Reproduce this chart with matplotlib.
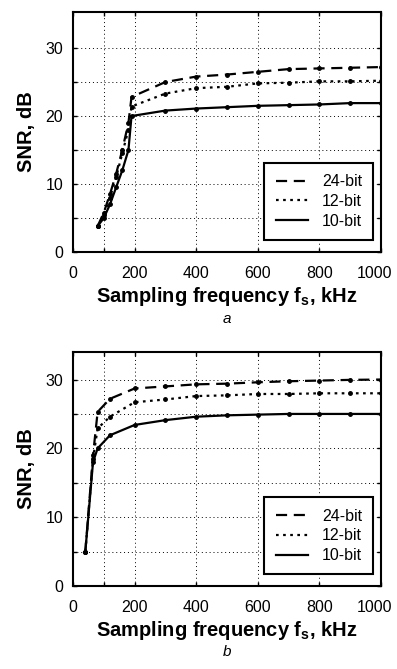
import matplotlib.pyplot as plt
from matplotlib.lines import Line2D
from matplotlib.transforms import ScaledTranslation

# panel a
xa_lo = [80, 100, 120, 140, 160, 180, 190]
xa_hi = [300, 400, 500, 600, 700, 800, 900, 1000]
a24 = [3.8, 5.8, 8.5, 11.5, 15.0, 19.0, 22.8, 25.0, 25.8, 26.1, 26.5, 26.9, 27.0, 27.1, 27.2]
a12 = [3.8, 5.5, 8.0, 11.0, 14.5, 18.0, 21.4, 23.3, 24.1, 24.3, 24.8, 24.9, 25.1, 25.1, 25.2]
a10 = [3.8, 5.0, 7.0, 9.5, 12.0, 15.0, 20.0, 20.8, 21.1, 21.3, 21.5, 21.6, 21.7, 21.9, 21.9]

# panel b
xb = [40, 65, 80, 120, 200, 300, 400, 500, 600, 700, 800, 900, 1000]
b24 = [5.0, 19.0, 25.3, 27.2, 28.7, 29.0, 29.3, 29.4, 29.6, 29.75, 29.85, 29.95, 30.0]
b12 = [5.0, 18.5, 22.9, 24.6, 26.7, 27.1, 27.6, 27.7, 27.9, 27.9, 28.0, 28.0, 28.0]
b10 = [5.0, 18.0, 20.0, 21.9, 23.4, 24.1, 24.6, 24.8, 24.9, 25.0, 25.0, 25.0, 25.0]

labels = ['24-bit', '12-bit', '10-bit']
styles = [(0, (5, 3)), (0, (1.2, 2)), '-']

xticks = [0, 100, 200, 400, 600, 800, 1000]
xticklabels = ['0', '', '200', '400', '600', '800', '1000']
yticks = [0, 5, 10, 15, 20, 25, 30]
yticklabels = ['0', '', '10', '', '20', '', '30']

narrow = ['Liberation Sans', 'DejaVu Sans']

fig = plt.figure(figsize=(3.97, 6.69), dpi=100)
W, H = 397, 669


def make_axes(left, top, right, bottom):
    return fig.add_axes([left / W, 1 - bottom / H, (right - left) / W, (bottom - top) / H])


def style(ax, ytop, caption):
    ax.set_xlim(0, 1000)
    ax.set_ylim(0, ytop)
    ax.set_xticks(xticks)
    ax.set_xticklabels(xticklabels, family=narrow, fontsize=11.5)
    ax.set_yticks(yticks)
    ax.set_yticklabels(yticklabels, family=narrow, fontsize=11.5)
    ax.tick_params(direction='in', top=True, right=True, length=3, width=1)
    ax.tick_params(axis='x', pad=10)
    ax.tick_params(axis='y', pad=7)
    # keep "1000" inside the figure
    last = ax.get_xticklabels()[-1]
    last.set_transform(last.get_transform() + ScaledTranslation(-5 / 72, 0, fig.dpi_scale_trans))
    ax.grid(True, color='black', linestyle=(0, (1, 3)), linewidth=0.7)
    for s in ax.spines.values():
        s.set_linewidth(1.5)
    ax.set_xlabel('Sampling frequency f$_{\\mathregular{s}}$, kHz', fontsize=14.5,
                  family='Liberation Sans', fontweight='bold', labelpad=3)
    ax.set_ylabel('SNR, dB', fontsize=14.5, family='Liberation Sans',
                  fontweight='bold', labelpad=7)
    ax.text(0.5, -0.28, caption, transform=ax.transAxes, ha='center', va='center',
            fontsize=11, style='italic', family='Liberation Sans')
    handles = [Line2D([], [], color='black', linestyle=ls, linewidth=1.6) for ls in styles]
    leg = ax.legend(handles, labels, loc='lower right', bbox_to_anchor=(0.975, 0.05),
                    fancybox=False, edgecolor='black', framealpha=1, handlelength=2.0,
                    handletextpad=0.9, prop={'family': narrow, 'size': 11.5},
                    borderpad=0.7, borderaxespad=0, labelspacing=0.3)
    leg.get_frame().set_linewidth(1.5)


ax1 = make_axes(73, 12, 381, 252)
xa = xa_lo + xa_hi
for ys, lab, ls in zip([a24, a12, a10], labels, styles):
    ax1.plot(xa, ys, color='black', linestyle=ls, linewidth=1.6, marker='o',
             markersize=2.5, label=lab)
style(ax1, 35.3, 'a')

ax2 = make_axes(73, 352, 381, 586)
for ys, lab, ls in zip([b24, b12, b10], labels, styles):
    ax2.plot(xb, ys, color='black', linestyle=ls, linewidth=1.6, marker='o',
             markersize=2.5, label=lab)
style(ax2, 34.0, 'b')

fig.savefig('out.png', dpi=100)
